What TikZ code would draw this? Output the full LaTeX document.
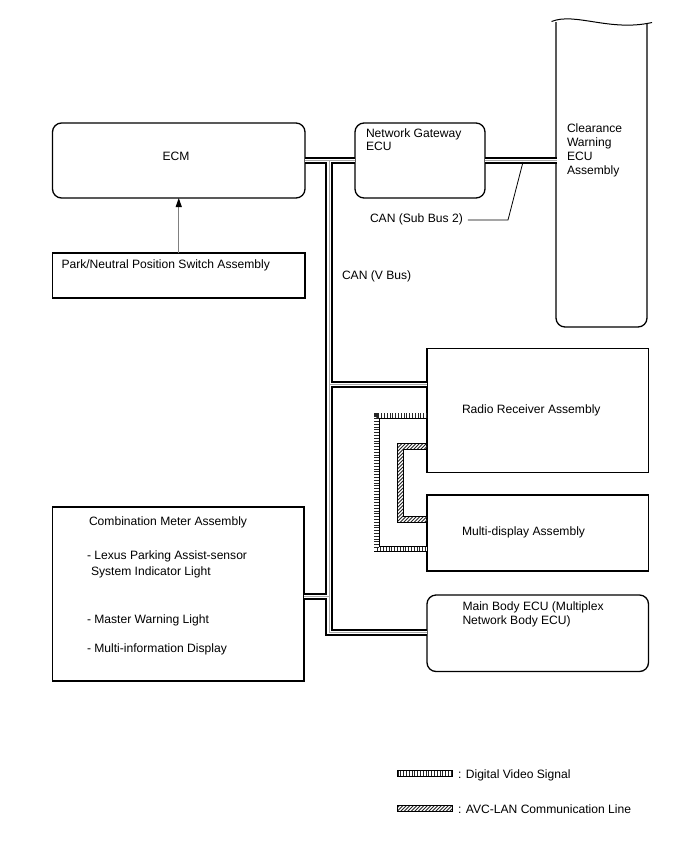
\documentclass[tikz,border=0pt]{standalone}
\usepackage{fontspec}
\setmainfont{Liberation Sans}
\usetikzlibrary{arrows.meta}
\begin{document}
\begin{tikzpicture}[x=1pt,y=-1pt,
  every node/.style={font=\fontsize{12.1}{13.5}\selectfont, inner sep=0pt, outer sep=0pt},
  box/.style={draw, line width=1.3pt, anchor=north west},
  rbox/.style={box, rounded corners=9pt},
  txt/.style={anchor=base west},
  busout/.style={line width=7.5pt, black, line join=miter},
  busin/.style={line width=3.6pt, white, line join=miter},
  busmid/.style={line width=0.5pt, gray!70},
  vidout/.style={line width=6pt, black, line join=miter},
  vidin/.style={line width=4.4pt, white, line join=miter},
  vidtick/.style={line width=4.4pt, black!85, dash pattern=on 1pt off 1.8pt},
  hatch/.style={line width=0.8pt, black!85},
  leader/.style={line width=0.8pt, black},
  arr/.style={line width=1pt, gray, -{Triangle[length=9pt,width=6pt,color=black]}}
]
\fill[white] (0,0) rectangle (688,852);
\useasboundingbox (0,0) rectangle (688,852);

% boxes
\node[rbox, minimum width=252.5pt, minimum height=75pt] (ecm) at (52.5,123) {};
\node[box, minimum width=252.5pt, minimum height=45pt] (park) at (52.5,253) {};
\node[rbox, minimum width=130pt, minimum height=75pt] (gw) at (355,123) {};
\node[box, minimum width=221.5pt, minimum height=124pt] (radio) at (427,348.5) {};
\node[box, minimum width=221.5pt, minimum height=76pt] (md) at (427,495) {};
\node[rbox, minimum width=221.5pt, minimum height=76.5pt] (mb) at (427,595) {};
\node[box, minimum width=251.5pt, minimum height=174pt] (cm) at (52.5,507) {};

% clearance warning ECU (cut-off top)
\draw[line width=1.3pt, rounded corners=9pt] (556,22) -- (556,327) -- (647,327) -- (647,23);
\draw[line width=1pt] (551.5,21.5) .. controls (575,12) and (610,32) .. (652,22.5);
\coordinate (cwIn) at (556.5,160.5);

% arrow
\draw[arr] (park.north) -- (ecm.south);

% CAN bus
\coordinate (jTop) at (329,160.5);
\coordinate (jR) at (329,384.5);
\coordinate (jC) at (329,596.5);
\coordinate (jB) at (329,632.5);
\newcommand\busnet{(ecm.east) -- (gw.west) (gw.east) -- (cwIn)
  (jTop) -- (jB) -- (mb.west |- jB) (jR) -- (radio.west |- jR)
  (cm.east |- jC) -- (jC)}
\draw[busout] \busnet;
\draw[busin] \busnet;
\draw[busmid] \busnet;

% digital video
\coordinate (v1) at (376.5,415.5);
\coordinate (v2) at (376.5,549);
\newcommand\vidnet{(radio.west |- v1) -- (v1) -- (v2) -- (md.west |- v2)}
\draw[vidout] \vidnet;
\draw[vidin] \vidnet;
\draw[vidtick] \vidnet;

% AVC-LAN
\begin{scope}
\clip (427,443) -- (397,443) -- (397,522) -- (427,522) -- (427,516) -- (403,516) -- (403,449) -- (427,449) -- cycle;
\foreach \k in {0,...,36} \draw[hatch] (305+3.5*\k,530) -- ++(140,-140);
\end{scope}
\draw[line width=0.9pt] (427,443) -- (397,443) -- (397,522) -- (427,522);
\draw[line width=0.9pt] (427,516) -- (403,516) -- (403,449) -- (427,449);

% leader for sub bus
\coordinate (l1) at (508,220);
\coordinate (ldA) at (523,162);

% texts
\node[anchor=base] (tEcm) at (176,160.5) {ECM};
\node[txt] (tPark) at (61.5,268.5) {Park/Neutral Position Switch Assembly};
\node[txt] (tGw1) at (366,137) {Network Gateway};
\node[txt] (tGw2) at (366,150.5) {ECU};
\node[txt] (tCw1) at (567,132.5) {Clearance};
\node[txt] (tCw2) at (567,146.5) {Warning};
\node[txt] (tCw3) at (567,160.5) {ECU};
\node[txt] (tCw4) at (567,174.5) {Assembly};
\node[txt] (canSub) at (370,222.5) {CAN (Sub Bus 2)};
\node[txt] (canV) at (342,279.5) {CAN (V Bus)};
\node[txt] (tRadio) at (462,413.5) {Radio Receiver Assembly};
\node[txt] (tMd) at (462,535) {Multi-display Assembly};
\node[txt] (tMb1) at (462.5,610.5) {Main Body ECU (Multiplex};
\node[txt] (tMb2) at (462.5,624) {Network Body ECU)};
\node[txt] (tCm1) at (89,525.5) {Combination Meter Assembly};
\node[txt] (tCm2) at (87,559.5) {- Lexus Parking Assist-sensor};
\node[txt] (tCm3) at (91,575) {System Indicator Light};
\node[txt] (tCm4) at (87,623.5) {- Master Warning Light};
\node[txt] (tCm5) at (87,652.5) {- Multi-information Display};

\draw[leader] ([xshift=5pt]canSub.east |- l1) -- (l1) -- (ldA);

% legend
\node[txt] (lg1) at (458,778) {: Digital Video Signal};
\node[txt] (lg2) at (458,813) {: AVC-LAN Communication Line};
\draw[line width=0.8pt] (397,770.5) rectangle (452,776.5);
\draw[vidtick] (397.6,773.5) -- (451.4,773.5);
\begin{scope}
\clip (397,805) rectangle (452,811);
\foreach \k in {0,...,19} \draw[hatch] (383+3.5*\k,815) -- ++(20,-20);
\end{scope}
\draw[line width=0.8pt] (397,805) rectangle (452,811);
\end{tikzpicture}
\end{document}
